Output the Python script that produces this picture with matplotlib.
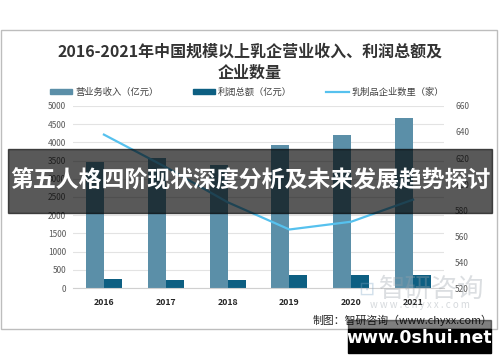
import matplotlib
matplotlib.use("Agg")
import matplotlib.pyplot as plt
from matplotlib.patches import Rectangle
from matplotlib.lines import Line2D
import numpy as np

plt.rcParams['font.family'] = ['Noto Sans CJK SC', 'DejaVu Sans']

years = ['2016', '2017', '2018', '2019', '2020', '2021']
revenue = [3470, 3560, 3380, 3920, 4190, 4670]
profit = [240, 212, 212, 350, 366, 350]
companies = [638, 613, 586, 565, 571, 588]

left_ticks = list(range(0, 5001, 500))
right_ticks = list(range(520, 661, 20))

title = '2016-2021年中国规模以上乳企营业收入、利润总额及\n企业数量'
legend_labels = ['营业务收入（亿元）', '利润总额（亿元）', '乳制品企业数里（家）']
source = '制图：智研咨询（www.chyxx.com）'
overlay = '第五人格四阶现状深度分析及未来发展趋势探讨'
stamp = 'www.0shui.net'

W, H = 500, 362
fig = plt.figure(figsize=(5, 3.62), dpi=100)

def fx(px): return px / W
def fy(py): return 1 - py / H

# chart border
fig.patches.append(Rectangle((fx(0.5), fy(329)), fx(496.5), (329 - 30) / H,
                             transform=fig.transFigure, fill=False,
                             edgecolor='#bdbdbd', lw=1.0, zorder=0))

ax = fig.add_axes([fx(73), fy(288), fx(444) - fx(73), (288 - 106) / H])
x = np.arange(len(years))
bw = 0.29
c_rev = '#5b8fa8'
c_pro = '#0d5f82'
c_line = '#56c1ee'
ax.bar(x - bw / 2, revenue, bw, color=c_rev, zorder=2)
ax.bar(x + bw / 2, profit, bw, color=c_pro, zorder=2)
ax.set_ylim(0, 5000)
ax.set_xlim(-0.5, len(years) - 0.5)
ax.set_yticks(left_ticks)
ax.set_yticklabels([str(v) for v in left_ticks], fontsize=6, color='#595959')
ax.set_xticks(x)
ax.set_xticklabels(years, fontsize=6.3, color='#262626', fontweight='bold')
ax.grid(axis='y', color='#e3e3e3', lw=0.8, zorder=0)
for s in ['top', 'right', 'left']:
    ax.spines[s].set_visible(False)
ax.spines['bottom'].set_color('#d0d0d0')
ax.tick_params(length=0, pad=5)
ax.tick_params(axis='x', pad=7)

ax2 = ax.twinx()
ax2.plot(x, companies, color=c_line, lw=1.6, zorder=3)
ax2.set_ylim(520, 660)
ax2.set_yticks(right_ticks)
ax2.set_yticklabels([str(v) for v in right_ticks], fontsize=6, color='#595959')
for s in ['top', 'right', 'left', 'bottom']:
    ax2.spines[s].set_visible(False)
ax2.tick_params(length=0, pad=8)

# title
fig.text(0.5, fy(62), title, ha='center', va='center', fontsize=11.5,
         fontweight='bold', color='#333333', linespacing=1.35)

# legend
handles = [Rectangle((0, 0), 1, 1, color=c_rev),
           Rectangle((0, 0), 1, 1, color=c_pro),
           Line2D([0], [0], color=c_line, lw=1.6)]
leg = fig.legend(handles, legend_labels, loc='center', bbox_to_anchor=(fx(247), fy(92)),
                 ncol=3, frameon=False, fontsize=6.7, handlelength=2.4,
                 handleheight=0.45, columnspacing=3.7, handletextpad=0.3)
for t in leg.get_texts():
    t.set_color('#404040')

# watermark
fig.text(fx(432), fy(289), '智研咨询', ha='center', va='center', fontsize=19,
         color='#9aa3ab', alpha=0.35)
fig.text(fx(366), fy(289), '⊡', ha='center', va='center', fontsize=14,
         color='#7fa7c8', alpha=0.35, family=['DejaVu Sans'])
fig.text(fx(420), fy(305), 'w w w . c h y x x . c o m', ha='center', va='center',
         fontsize=7, color='#9aa3ab', alpha=0.4)

# source
fig.text(fx(492), fy(320), source, ha='right', va='center', fontsize=7.8, color='#262626')

# overlay band
fig.patches.append(Rectangle((fx(8), fy(213)), fx(484), (213 - 149) / H,
                             transform=fig.transFigure, color='black', alpha=0.65,
                             zorder=10))
fig.text(0.5, fy(181), overlay, ha='center', va='center', fontsize=16.5,
         fontweight='bold', color='white', zorder=11)

# stamp
fig.patches.append(Rectangle((fx(348), fy(329)), fx(143), (329 - 320) / H,
                             transform=fig.transFigure, color='black', alpha=0.5,
                             zorder=10))
fig.patches.append(Rectangle((fx(348), fy(353)), fx(143), (353 - 329) / H,
                             transform=fig.transFigure, color='black', zorder=10))
fig.text(fx(419.5), fy(338), stamp, ha='center', va='center', fontsize=12.5,
         fontweight='bold', color='white', zorder=11, family=['DejaVu Sans'])

fig.savefig('out.png', dpi=100)
